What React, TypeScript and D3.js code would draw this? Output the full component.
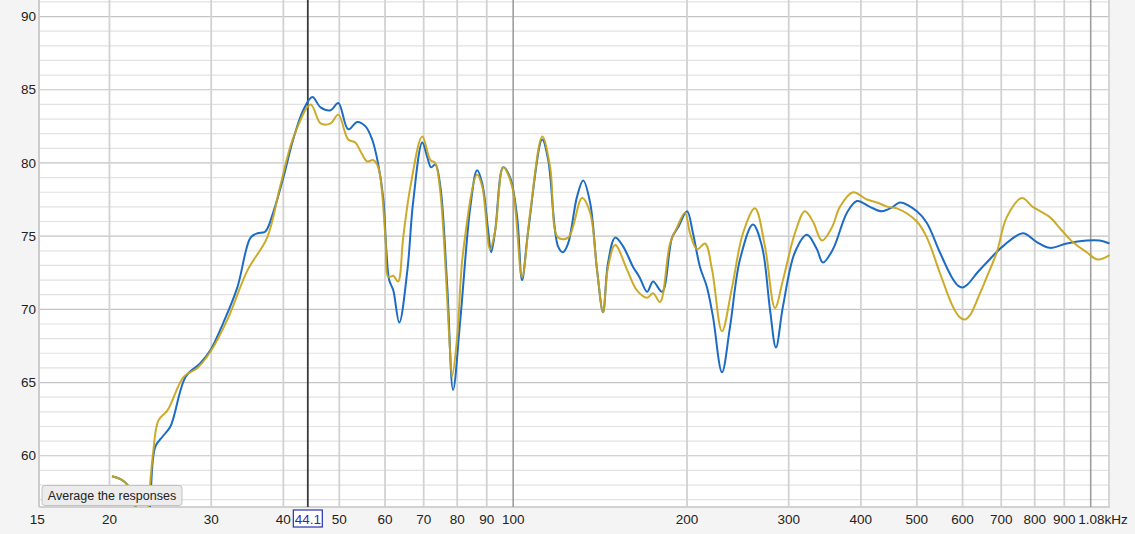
import React from "react";
import * as d3 from "d3";

// Frequency response series: [frequency Hz, level dB]
const blueSeries: [number, number][] = [
  [20.2, 58.6], [20.9, 58.4], [21.5, 58.0], [22.1, 56.8], [22.7, 54.8], [23.2, 54.6], [23.5, 56.5],
  [24.0, 60.6], [24.7, 61.3], [25.5, 62.0], [27.1, 65.4], [28.7, 66.3], [29.9, 67.2], [31.5, 69.1],
  [33.3, 71.5], [35.1, 74.9], [36.1, 75.2], [37.2, 75.3], [38.4, 76.6], [40.0, 79.0], [41.6, 81.6],
  [43.3, 83.6], [44.9, 84.5], [46.4, 83.8], [48.3, 83.6], [49.8, 84.1], [51.8, 82.3], [53.7, 82.8],
  [55.5, 82.5], [57.0, 81.6], [58.4, 79.9], [59.6, 77.5], [60.3, 74.1], [61.0, 72.0], [62.0, 71.3],
  [63.5, 69.1], [65.6, 72.7], [67.1, 77.3], [69.6, 81.4], [71.0, 80.4], [72.1, 79.7], [73.3, 79.9],
  [74.8, 78.4], [76.9, 71.5], [78.7, 64.5], [81.0, 69.3], [84.3, 77.0], [86.6, 79.5], [88.4, 78.6],
  [90.5, 75.4], [91.6, 73.9], [93.1, 75.4], [96.1, 79.7], [98.8, 79.0], [101.6, 76.3], [103.6, 72.0],
  [106.2, 75.4], [112.3, 81.6], [115.0, 80.2], [119.6, 74.3], [122.0, 73.9], [124.5, 74.5],
  [129.0, 77.7], [132.2, 78.8], [135.9, 77.3], [139.7, 72.7], [143.1, 69.8], [146.0, 73.2],
  [150.2, 74.9], [155.0, 74.3], [161.3, 72.9], [165.5, 72.2], [170.6, 71.2], [174.7, 71.9],
  [181.1, 71.2], [188.4, 74.9], [193.0, 75.6], [200.0, 76.7], [204.8, 75.2], [210.6, 72.9],
  [216.6, 71.5], [221.8, 69.5], [229.9, 65.7], [237.4, 68.8], [247.0, 73.4], [260.1, 75.8],
  [269.7, 74.3], [278.4, 70.0], [285.1, 67.4], [293.2, 70.2], [307.5, 73.9], [322.6, 75.1],
  [335.7, 74.1], [343.8, 73.2], [357.8, 74.1], [378.4, 76.6], [393.8, 77.4], [414.7, 77.0],
  [435.0, 76.7], [454.5, 77.0], [467.4, 77.3], [500.0, 76.7], [520.4, 75.9], [548.0, 73.9],
  [574.7, 72.2], [590.0, 71.6], [600.0, 71.5], [612.0, 71.7], [636.0, 72.5], [660.7, 73.2],
  [704.4, 74.3], [763.0, 75.2], [806.7, 74.6], [849.5, 74.2], [908.9, 74.5], [984.2, 74.7],
  [1036.6, 74.7], [1078.0, 74.5],
];

const yellowSeries: [number, number][] = [
  [20.2, 58.6], [20.9, 58.4], [21.5, 58.0], [22.1, 56.8], [22.7, 54.8], [23.2, 55.0], [23.4, 57.0],
  [23.8, 60.2], [24.3, 62.4], [25.2, 63.1], [26.9, 65.4], [28.4, 66.0], [29.9, 67.1], [32.0, 69.3],
  [34.7, 72.7], [37.5, 74.9], [39.5, 78.4], [41.6, 81.7], [44.6, 84.0], [46.4, 82.7], [48.3, 82.7],
  [49.8, 83.3], [51.8, 81.6], [53.3, 81.4], [54.4, 80.8], [55.9, 80.1], [57.2, 80.2], [58.4, 79.7],
  [60.1, 74.9], [60.8, 72.2], [62.0, 72.3], [63.2, 71.9], [64.5, 74.9], [66.4, 78.4], [69.6, 81.8],
  [71.9, 80.2], [73.3, 80.0], [74.8, 78.0], [77.8, 67.0], [78.4, 65.4], [80.0, 68.1], [81.9, 73.9],
  [86.6, 79.2], [88.4, 78.4], [91.2, 74.1], [93.1, 75.4], [96.1, 79.7], [99.6, 78.4], [103.6, 72.2],
  [107.0, 76.6], [112.3, 81.8], [115.9, 79.7], [119.6, 74.9], [124.5, 74.9], [131.6, 77.6],
  [135.9, 76.6], [139.7, 72.7], [143.1, 69.8], [146.0, 72.9], [150.2, 74.4], [157.5, 72.7],
  [163.8, 71.3], [170.6, 70.8], [174.7, 71.1], [179.6, 70.5], [186.9, 74.5], [192.2, 75.6],
  [198.4, 76.6], [202.4, 75.2], [208.2, 74.1], [214.9, 74.5], [221.0, 72.7], [229.9, 68.5],
  [239.3, 71.5], [250.0, 75.2], [262.2, 76.9], [272.9, 74.3], [284.0, 70.1], [293.2, 72.0],
  [307.5, 75.2], [320.0, 76.7], [330.4, 76.0], [342.5, 74.7], [356.4, 75.6], [367.9, 77.0],
  [387.5, 78.0], [409.8, 77.5], [426.5, 77.3], [445.6, 77.0], [461.8, 76.9], [500.0, 76.0],
  [520.4, 74.9], [548.0, 72.5], [577.0, 70.2], [592.0, 69.5], [605.3, 69.3], [618.0, 69.6],
  [640.0, 70.9], [660.7, 72.2], [687.7, 73.9], [715.6, 76.3], [759.8, 77.6], [793.7, 77.0],
  [849.5, 76.3], [890.8, 75.4], [930.9, 74.6], [984.2, 73.9], [1028.0, 73.4], [1078.0, 73.7],
];

const freqTicks = [15, 20, 30, 40, 50, 60, 70, 80, 90, 100, 200, 300, 400, 500, 600, 700, 800, 900];
const freqTickLabels = ["15", "20", "30", "40", "50", "60", "70", "80", "90", "100", "200", "300", "400", "500", "600", "700", "800", "900"];
const gridFreqs = [20, 30, 40, 50, 60, 70, 80, 90, 200, 300, 400, 500, 600, 700, 800, 900];
const decadeFreqs = [100, 1000];
const dbTicks = [60, 65, 70, 75, 80, 85, 90];
const dbMinor = d3.range(57, 92, 1);
const cursorFreq = 44.1;
const cursorLabel = "44.1";
const endLabel = "1.08kHz";
const buttonLabel = "Average the responses";

const W = 1135;
const H = 534;
const L = 39;
const R = 1110;
const T = 0;
const B = 507;

export default function App() {
  const x = d3.scaleLog().domain([15.1, 1080]).range([L, R]);
  const y = d3.scaleLinear().domain([56.5, 91.13]).range([B, T]);
  const line = d3
    .line<[number, number]>()
    .x((d) => x(d[0]))
    .y((d) => y(d[1]))
    .curve(d3.curveCatmullRom.alpha(0.5));
  const font = "'Liberation Sans', Arial, Helvetica, sans-serif";
  const cx = x(cursorFreq);

  return (
    <svg
      width={W}
      height={H}
      style={{ position: "absolute", left: 0, top: 0, display: "block" }}
      fontFamily={font}
    >
      <defs>
        <clipPath id="plotClip">
          <rect x={L} y={T} width={R - L} height={B - T} />
        </clipPath>
      </defs>
      <rect x={0} y={0} width={W} height={H} fill="#f4f4f4" />
      <rect x={L} y={T} width={R - L} height={B - T} fill="#ffffff" />

      {/* horizontal grid */}
      {dbMinor.map((v) => (
        <line
          key={"h" + v}
          x1={L}
          x2={R}
          y1={y(v)}
          y2={y(v)}
          stroke={v % 5 === 0 ? "#c4c4c4" : "#e2e2e2"}
          strokeWidth={1.2}
        />
      ))}
      <line x1={L} x2={R} y1={B} y2={B} stroke="#c4c4c4" strokeWidth={1.5} />

      {/* vertical grid */}
      {gridFreqs.map((f) => (
        <line key={"v" + f} x1={x(f)} x2={x(f)} y1={T} y2={B} stroke="#d2d2d2" strokeWidth={1.8} />
      ))}
      {decadeFreqs.map((f) => (
        <line key={"d" + f} x1={x(f)} x2={x(f)} y1={T} y2={B} stroke="#9e9e9e" strokeWidth={1.6} />
      ))}
      <line x1={L} x2={L} y1={T} y2={B} stroke="#cccccc" strokeWidth={2} />
      <line x1={R - 1} x2={R - 1} y1={T} y2={B} stroke="#d2d2d2" strokeWidth={1.8} />

      {/* cursor */}
      <line x1={cx} x2={cx} y1={T} y2={B} stroke="#3a3a3a" strokeWidth={1.8} />

      {/* curves */}
      <g clipPath="url(#plotClip)">
        <path d={line(blueSeries) || ""} fill="none" stroke="#1d6cc4" strokeWidth={2} />
        <path d={line(yellowSeries) || ""} fill="none" stroke="#c9a418" strokeWidth={2} strokeOpacity={0.92} />
      </g>

      {/* y labels */}
      {dbTicks.map((v) => (
        <text key={"yl" + v} x={36} y={y(v)} dy="0.35em" textAnchor="end" fontSize={13.5} fill="#222">
          {v}
        </text>
      ))}

      {/* x labels */}
      {freqTicks.map((f, i) => (
        <text key={"xl" + f} x={x(f)} y={524} textAnchor="middle" fontSize={13.5} fill="#222">
          {freqTickLabels[i]}
        </text>
      ))}
      <text x={1103} y={524} textAnchor="middle" fontSize={13.5} fill="#222">
        {endLabel}
      </text>

      {/* cursor label */}
      <rect x={cx - 14.5} y={510} width={29} height={17} fill="#ffffff" stroke="#2a2fb0" strokeWidth={1.2} />
      <text x={cx} y={524} textAnchor="middle" fontSize={13.5} fill="#2a2fb0">
        {cursorLabel}
      </text>

      {/* button */}
      <rect x={42} y={485.5} width={140} height={20} rx={3} fill="#ececec" stroke="#c2c2c2" strokeWidth={1} />
      <text x={112} y={500} textAnchor="middle" fontSize={12.5} fill="#222">
        {buttonLabel}
      </text>
    </svg>
  );
}
